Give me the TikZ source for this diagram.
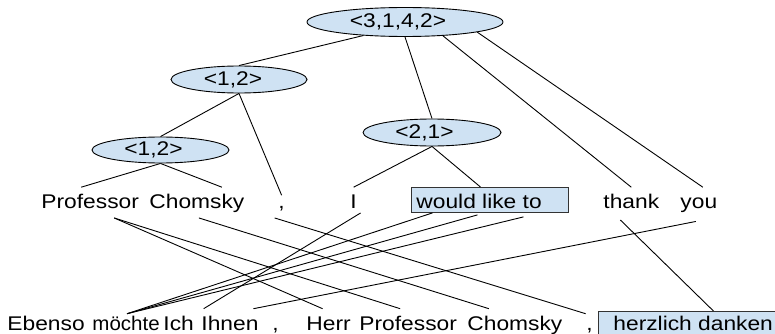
\documentclass[tikz,border=0pt]{standalone}
\usepackage{graphicx}
\usepackage{fontspec}
\setmainfont{Liberation Sans}[FakeStretch=1.15]
\usetikzlibrary{shapes.geometric}
\definecolor{lblue}{HTML}{CFE2F3}
\begin{document}
\begin{tikzpicture}[x=1pt,y=-1pt,
  font=\fontsize{19.8}{24}\selectfont,
  line width=0.9pt,
  ell/.style={ellipse, draw=black, fill=lblue, inner sep=0pt, line width=0.9pt},
  word/.style={anchor=base west, inner xsep=0pt, inner ysep=6pt, text height=14.85pt, text depth=5pt},
  hbox/.style={rectangle, draw=black!80, fill=lblue, anchor=north west, inner sep=0pt, line width=0.9pt},
  link/.style={draw=black, line width=0.9pt}]
\useasboundingbox (0,0) rectangle (775,334);

% tree nodes
\node[ell, minimum width=196pt, minimum height=29pt, label={[xshift=-7pt]center:{<3,1,4,2>}}] (r) at (405,22) {};
\node[ell, minimum width=136pt, minimum height=27pt, label={[xshift=-6pt]center:{<1,2>}}] (a) at (239,79.5) {};
\node[ell, minimum width=137pt, minimum height=26pt, label={[xshift=-7pt]center:{<1,2>}}] (b) at (160.5,150) {};
\node[ell, minimum width=138pt, minimum height=27pt, label={[xshift=-7.5pt]center:{<2,1>}}] (c) at (432,132.5) {};

% English words
\node[word] (pr1) at (41,208.5) {Professor};
\node[word] (ch1) at (149,208.5) {Chomsky};
\node[word] (cm1) at (278,208.5) {,};
\node[word] (i1) at (350,208.5) {I};
\node[hbox, minimum width=157pt, minimum height=25pt] (wlb) at (411,187) {};
\node[word] (wl) at (416,208.5) {would like to};
\node[word] (th) at (603,208.5) {thank};
\node[word] (yo) at (680,208.5) {you};

% German words
\node[word] (eb) at (7,330) {Ebenso};
\node[word] (mo) at (92,330) {\scalebox{0.9}[1]{möchte}};
\node[word] (ic) at (163,330) {Ich};
\node[word] (ih) at (201,330) {Ihnen};
\node[word] (cm2) at (272,330) {,};
\node[word] (he) at (306,330) {Herr};
\node[word] (pr2) at (359,330) {Professor};
\node[word] (ch2) at (467,330) {Chomsky};
\node[word] (cm3) at (586,330) {,};
\node[hbox, minimum width=200pt, minimum height=26pt] (hdb) at (598,311) {};
\node[word] (hd) at (613,330) {herzlich danken};

% tree edges
\draw[link] (r.198) -- (a.north);
\draw[link] (r.south) -- (c.north);
\draw[link] (r.340) -- (th.north);
\draw[link] (r.352) -- ([xshift=4pt]yo.north);
\draw[link] (a.south) -- (b.north);
\draw[link] (a.south) -- ([yshift=-8pt]cm1.north);
\draw[link] (b.south) -- ([xshift=-9pt]pr1.north);
\draw[link] (b.south) -- ([xshift=25pt]ch1.north);
\draw[link] (c.south) -- (i1.north);
\draw[link] (c.south) -- ([xshift=-9.5pt]wlb.north);

% alignment links
\draw[link] ([xshift=24pt,yshift=2pt]pr1.south) -- ([xshift=-6pt]he.north);
\draw[link] ([xshift=24pt,yshift=2pt]pr1.south) -- ([xshift=-8pt]pr2.north);
\draw[link] ([xshift=2pt,yshift=2pt]ch1.south) -- ([xshift=-26pt]ch2.north);
\draw[link] ([xshift=-7pt,yshift=2pt]cm1.south) -- ([xshift=-4pt,yshift=-5pt]cm3.north);
\draw[link] ([xshift=7pt,yshift=7pt]i1.south) -- ([xshift=25pt]ic.north);
\draw[link] ([xshift=-57.5pt]wlb.south) -- ([xshift=1pt,yshift=-5pt]mo.north);
\draw[link] ([xshift=-12.5pt,yshift=-2pt]wlb.south) -- ([xshift=1pt,yshift=-5pt]mo.north);
\draw[link] ([xshift=33.5pt,yshift=-4pt]wlb.south) -- ([xshift=1pt,yshift=-5pt]mo.north);
\draw[link] ([xshift=-3pt,yshift=-1.5pt]yo.south) -- ([xshift=23.5pt]ih.north);
\draw[link] ([xshift=-11pt]th.south) -- ([xshift=15pt]hdb.north);
\end{tikzpicture}
\end{document}
